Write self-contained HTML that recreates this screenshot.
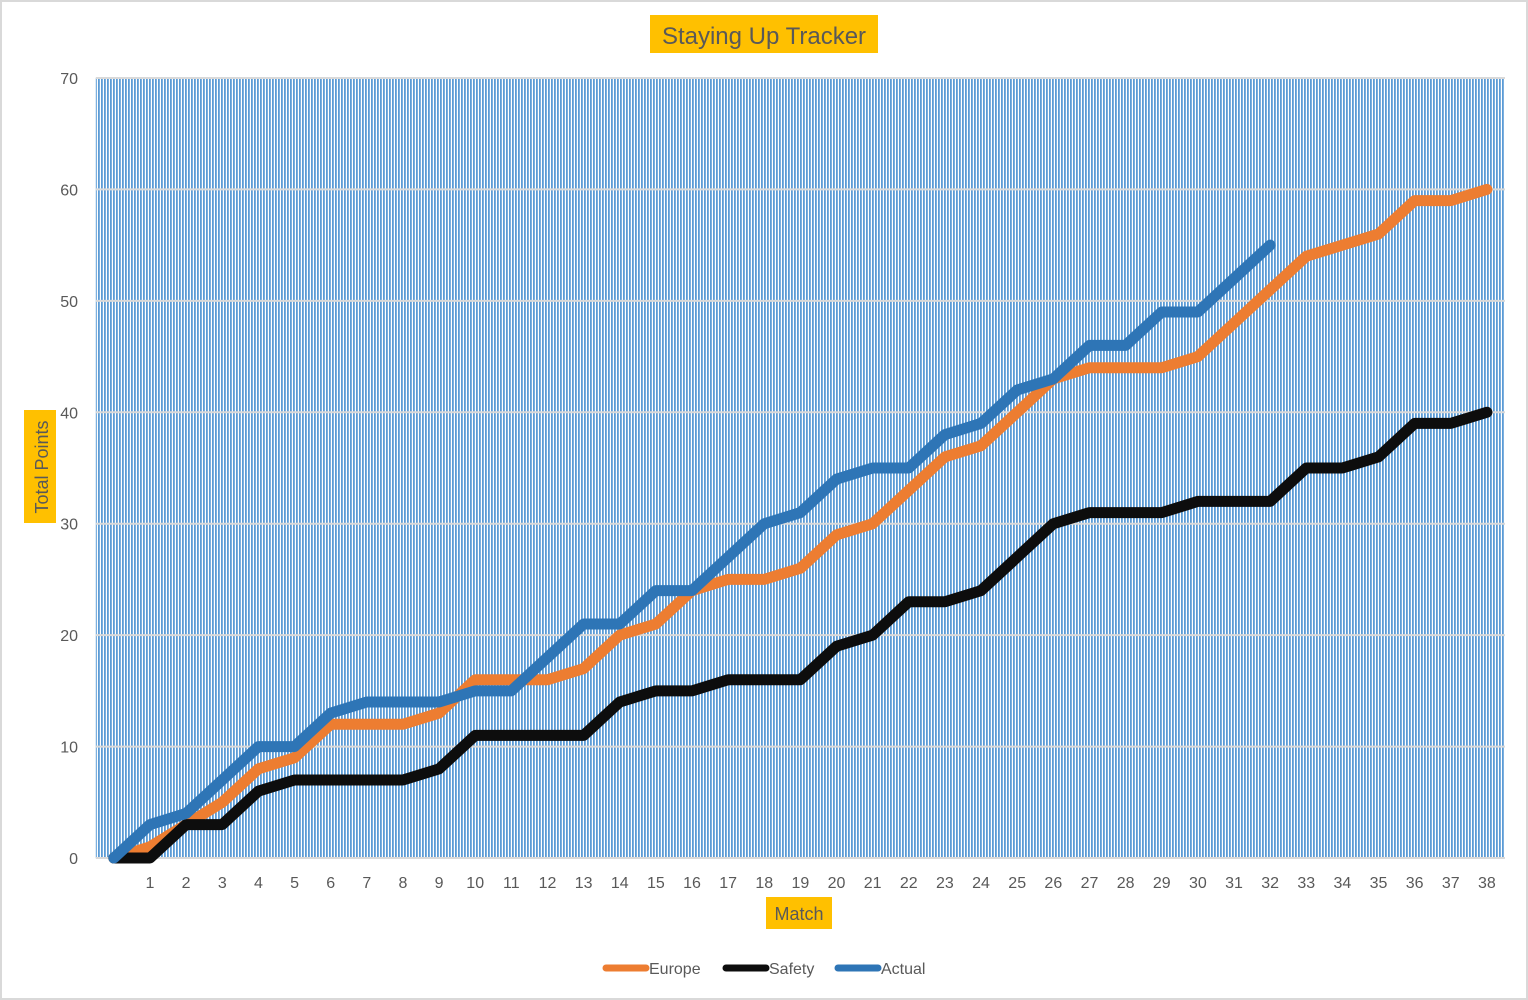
<!DOCTYPE html>
<html><head><meta charset="utf-8"><style>
body{margin:0;background:#fff}
svg{display:block;font-family:"Liberation Sans",sans-serif}
</style></head><body>
<svg width="1528" height="1000">
<defs>
<pattern id="stripes" width="3" height="10" patternUnits="userSpaceOnUse" x="95">
<rect x="0" y="0" width="1.8" height="10" fill="#5b9bd5"/>
</pattern>
</defs>
<rect x="1" y="1" width="1526" height="998" fill="#fff" stroke="#d9d9d9" stroke-width="2"/>
<rect x="650" y="15" width="228" height="38" fill="#ffc000"/>
<text x="764" y="44" font-size="24" fill="#595959" text-anchor="middle">Staying Up Tracker</text>
<rect x="24" y="410" width="32" height="113" fill="#ffc000"/>
<text transform="translate(48,467) rotate(-90)" font-size="18" fill="#595959" text-anchor="middle">Total Points</text>
<rect x="766" y="897" width="66" height="32" fill="#ffc000"/>
<text x="799" y="920" font-size="18" fill="#595959" text-anchor="middle">Match</text>
<g id="plot"></g>
<g>
<g><line x1="606" y1="968" x2="646" y2="968" stroke="#ed7d31" stroke-width="7" stroke-linecap="round"/><text x="649" y="974" font-size="16" fill="#595959">Europe</text></g>
<g><line x1="726" y1="968" x2="766" y2="968" stroke="#0d0d0d" stroke-width="7" stroke-linecap="round"/><text x="769" y="974" font-size="16" fill="#595959">Safety</text></g>
<g><line x1="838" y1="968" x2="878" y2="968" stroke="#2e75b6" stroke-width="7" stroke-linecap="round"/><text x="881" y="974" font-size="16" fill="#595959">Actual</text></g>
</g>
</svg>
<script>
const europe=[0,1,3,5,8,9,12,12,12,13,16,16,16,17,20,21,24,25,25,26,29,30,33,36,37,40,43,44,44,44,45,48,51,54,55,56,59,59,60];
const safety=[0,0,3,3,6,7,7,7,7,8,11,11,11,11,14,15,15,16,16,16,19,20,23,23,24,27,30,31,31,31,32,32,32,35,35,36,39,39,40];
const actual=[0,3,4,7,10,10,13,14,14,14,15,15,18,21,21,24,24,27,30,31,34,35,35,38,39,42,43,46,46,49,49,52,55];
const yTicks=[0,10,20,30,40,50,60,70];
const xLabels=[];for(let i=1;i<=38;i++)xLabels.push(String(i));
const L=95.8,R=1505,T=78,B=858,N=39,YMAX=70;
const bw=(R-L)/N;
const xs=i=>L+bw*(i+0.5);
const ys=v=>B-(v/YMAX)*(B-T);
const NS='http://www.w3.org/2000/svg';
const g=document.getElementById('plot');
function mk(t,a){const e=document.createElementNS(NS,t);for(const k in a)e.setAttribute(k,a[k]);g.appendChild(e);return e;}
const bg=mk('rect',{x:L,y:T,width:R-L,height:B-T,fill:'url(#stripes)'});


yTicks.forEach(v=>{
 const l=mk('line',{x1:L,x2:R,y1:ys(v),y2:ys(v),stroke:'#d9d9d9','stroke-width':2});
 
 
 const t=mk('text',{x:78,y:ys(v)+6,'font-size':16,fill:'#595959','text-anchor':'end'});
 t.textContent=v;
 
 
});
xLabels.forEach((s,i)=>{
 const t=mk('text',{x:xs(i+1),y:888,'font-size':16,fill:'#595959','text-anchor':'middle'});
 t.textContent=s;
 
 
});
function series(d,c,name){
 const p=mk('polyline',{points:d.map((v,i)=>xs(i)+','+ys(v)).join(' '),fill:'none',stroke:c,'stroke-width':11,'stroke-linejoin':'round','stroke-linecap':'round'});
 
 
}
series(europe,'#ed7d31','europe-line');
series(safety,'#0d0d0d','safety-line');
series(actual,'#2e75b6','actual-line');
</script>
</body></html>
